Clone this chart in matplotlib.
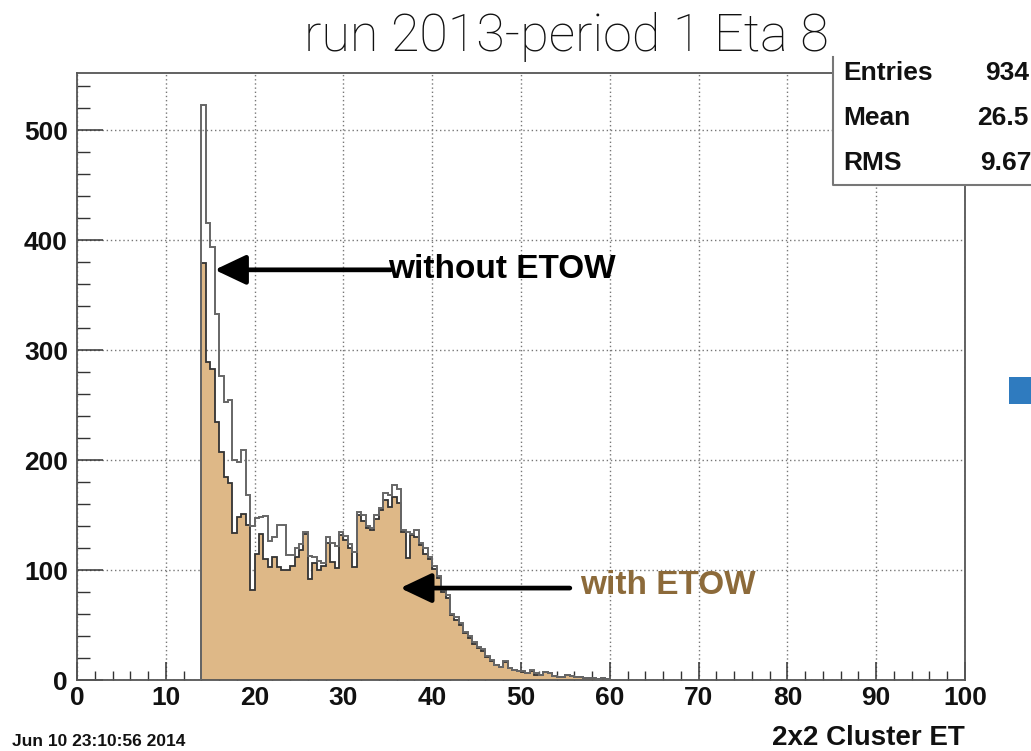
import numpy as np
import matplotlib
matplotlib.use("Agg")
import matplotlib.pyplot as plt
from matplotlib.patches import Rectangle
from matplotlib.lines import Line2D
from matplotlib.ticker import MultipleLocator

# 2x2 cluster ET histogram, 0.5 GeV bins starting at 14
bin_start = 14.0
bin_width = 0.5
without_etow = [523, 416, 394, 333, 276, 253, 255, 200, 198, 209,
                168, 140, 147, 148, 149, 126, 130, 141, 141, 114,
                114, 120, 124, 135, 113, 112, 108, 106, 130, 125,
                122, 135, 131, 124, 116, 153, 150, 140, 138, 150,
                156, 170, 168, 177, 174, 136, 135, 133, 136, 125,
                120, 112, 104, 95, 82, 77, 60, 57, 52, 44,
                40, 35, 30, 28, 22, 18, 14, 12, 17, 11,
                9, 8, 8, 6, 9, 6, 5, 7, 6, 4,
                3, 3, 5, 4, 3, 3, 2, 2, 2, 1,
                2, 1]
with_etow = [379, 289, 283, 235, 207, 185, 179, 134, 148, 151,
             141, 82, 115, 133, 110, 103, 112, 103, 100, 100,
             104, 112, 118, 133, 92, 106, 100, 104, 125, 107,
             102, 132, 127, 120, 103, 150, 145, 138, 136, 146,
             155, 164, 157, 166, 161, 135, 111, 132, 130, 123,
             115, 110, 101, 93, 80, 75, 59, 55, 50, 43,
             38, 33, 29, 26, 21, 17, 14, 12, 16, 11,
             9, 8, 7, 6, 8, 5, 5, 7, 6, 4,
             3, 3, 5, 4, 3, 3, 2, 2, 2, 1,
             2, 1]

x_ticks = [0, 10, 20, 30, 40, 50, 60, 70, 80, 90, 100]
y_ticks = [0, 100, 200, 300, 400, 500]
stat_names = ["Entries", "Mean", "RMS"]
stat_values = ["934", "26.5", "9.67"]

title_text = "run 2013-period 1 Eta 8"
x_label = "2x2 Cluster ET"
date_text = "Jun 10 23:10:56 2014"

W, H = 1031, 751
fig = plt.figure(figsize=(W / 100, H / 100), dpi=100)
fig.patch.set_facecolor("white")


def fx(px):
    return px / W


def fy(py):
    return 1 - py / H


ax = fig.add_axes([fx(77), fy(680), fx(965) - fx(77), fy(73) - fy(680)])
ax.set_xlim(0, 100)
ax.set_ylim(0, 552)

edges = bin_start + bin_width * np.arange(len(without_etow) + 1)

# filled histogram (with ETOW) and outline (without ETOW)
ax.stairs(with_etow, edges, fill=True, color="#DEB887", zorder=2)
ax.stairs(with_etow, edges, color="#333333", lw=1.3, zorder=3)
ax.stairs(without_etow, edges, color="#666666", lw=1.4, zorder=4)

ax.grid(True, which="major", linestyle=(0, (1, 2)), color="#777777", lw=1.0)
ax.set_axisbelow(True)

ax.xaxis.set_major_locator(MultipleLocator(10))
ax.xaxis.set_minor_locator(MultipleLocator(2))
ax.yaxis.set_major_locator(MultipleLocator(100))
ax.yaxis.set_minor_locator(MultipleLocator(20))
ax.set_xticks(x_ticks)
ax.set_yticks(y_ticks)
ax.set_xticklabels([str(v) for v in x_ticks])
ax.set_yticklabels([str(v) for v in y_ticks])

bold = ["Liberation Sans", "DejaVu Sans"]
for lab in ax.get_xticklabels() + ax.get_yticklabels():
    lab.set_fontfamily(bold)
    lab.set_fontweight("bold")
    lab.set_fontsize(19)

ax.tick_params(axis="x", which="major", direction="in", length=13, width=1.1,
               pad=4, colors="#333333", labelcolor="#111111")
ax.tick_params(axis="x", which="minor", direction="in", length=6.5, width=1.0,
               colors="#333333")
ax.tick_params(axis="y", which="major", direction="in", length=19, width=1.1,
               pad=6.5, colors="#333333", labelcolor="#111111")
ax.tick_params(axis="y", which="minor", direction="in", length=9.5, width=1.0,
               colors="#333333")
for side in ["left", "bottom", "right", "top"]:
    ax.spines[side].set_color("#555555")
    ax.spines[side].set_linewidth(1.3)

# arrows and labels
arrow_style = dict(arrowstyle="-|>,head_length=0.95,head_width=0.45",
                   mutation_scale=20, lw=3.4, color="black",
                   shrinkA=0, shrinkB=0)
ax.annotate("", xy=(15.5, 373), xytext=(35.3, 373), arrowprops=arrow_style, zorder=6)
ax.text(35.0, 373, "without ETOW", family=bold, weight="bold", size=24,
        color="black", ha="left", va="center", zorder=7)

ax.annotate("", xy=(36.4, 83.6), xytext=(55.5, 83.6), arrowprops=arrow_style, zorder=6)
ax.text(56.6, 86, "with ETOW", family=bold, weight="bold", size=24,
        color="#8c6a3a", ha="left", va="center", zorder=7)

# statistics box (left and bottom borders visible)
fig.add_artist(Rectangle((fx(833), fy(185)), fx(1100) - fx(833), fy(57) - fy(185),
                         transform=fig.transFigure, facecolor="white",
                         edgecolor="none", zorder=10))
fig.add_artist(Line2D([fx(833), fx(833), fx(1100)], [fy(57), fy(185), fy(185)],
                      transform=fig.transFigure, color="#777777", lw=1.5, zorder=10))
for name, val, py, vx in zip(stat_names, stat_values, [73, 118, 163], [985, 977, 980]):
    fig.text(fx(843), fy(py), name, family=bold, weight="bold", size=19,
             color="#111111", ha="left", va="center", zorder=11)
    fig.text(fx(vx), fy(py), val, family=bold, weight="bold", size=19,
             color="#111111", ha="left", va="center", zorder=11)

# title, axis label, date
fig.text(fx(566), fy(37), title_text, family=["Roboto", "DejaVu Sans"], weight="light",
         size=37.5, color="#111111", ha="center", va="center", zorder=12)
fig.text(fx(965), fy(738), x_label, family=bold, weight="bold", size=20,
         color="#111111", ha="right", va="center")
fig.text(fx(12), fy(742), date_text, family=bold, weight="bold", size=12.5,
         color="#111111", ha="left", va="center")

# blue marker at right edge
fig.add_artist(Rectangle((fx(1009), fy(404)), fx(1040) - fx(1009), fy(377) - fy(404),
                         transform=fig.transFigure, facecolor="#2f7bbf",
                         edgecolor="none", zorder=10))

fig.savefig("out.png", dpi=100)
